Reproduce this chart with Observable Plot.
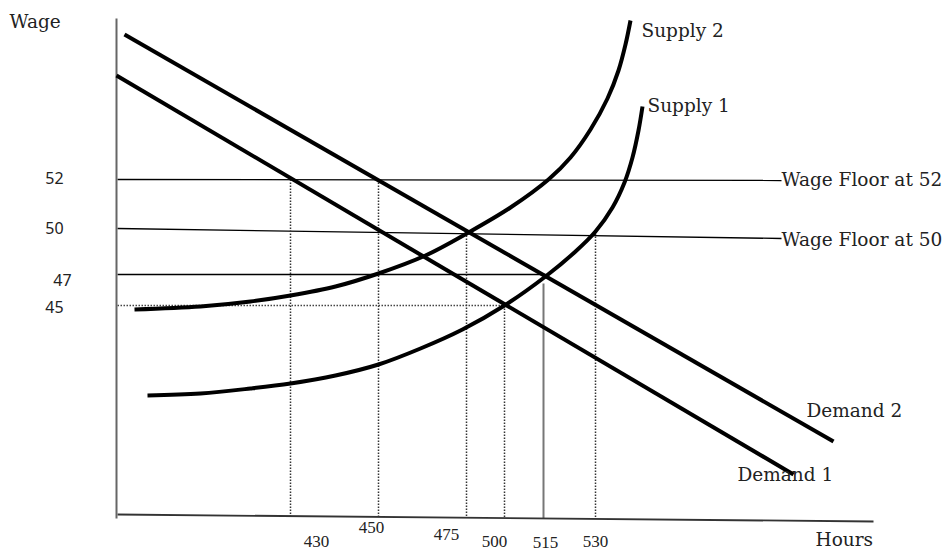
<!DOCTYPE html>
<html><head><meta charset="utf-8">
<script src="https://cdn.jsdelivr.net/npm/d3@7"></script>
<script src="https://cdn.jsdelivr.net/npm/@observablehq/plot@0.6"></script>
<style>html,body{margin:0;padding:0;background:#fff;overflow:hidden}</style>
</head><body><div id="chart"></div>
<script>
// ---- Data (diagram units; x = hours axis position, y = wage axis position from top) ----
const hourTicks   = ["430", "450", "475", "500", "515", "530"];
const hourTickPos = [290, 378, 466, 504, 543, 595];     // where each hours value sits on the sketch
const hourDropTop = [179, 179, 229, 305, 283, 233];     // level where each drop line starts
const wageTicks   = ["52", "50", "47", "45"];
const wageTickPos = [179, 228, 274, 305];

const demand1 = [[116, 75], [793, 474]];
const demand2 = [[124, 34], [833, 441]];
const supply1 = [[147, 395], [200, 393], [250, 388], [290, 383], [335, 375], [378, 364], [420, 348], [462, 329], [504, 305], [545, 276], [575, 251], [595, 231], [612, 207], [624, 182], [632, 157], [638, 130], [642, 106]];
const supply2 = [[134, 309], [200, 306], [250, 301], [290, 295], [335, 286], [378, 273], [425, 255], [468, 232], [510, 207], [548, 179], [570, 157], [590, 129], [607, 98], [618, 70], [625, 44], [630, 20]];

const floor52 = [[117, 179], [781, 180]];
const floor50 = [[117, 228], [781, 238]];
const level47 = [[117, 274], [545, 274]];
const level45 = [[117, 305], [504, 305]];

const xAxisLine = [[117, 514], [873, 521]];
const yAxisLine = [[116, 18], [116, 518]];

const curveLabels = ["Supply 2", "Supply 1", "Wage Floor at 52", "Wage Floor at 50", "Demand 2", "Demand 1", "Wage", "Hours"];

// ---- Layout (label placement) ----
const curveLabelPos = [[641, 31], [647, 106], [781, 180], [781, 240], [806, 411], [737, 475], [9, 22], [815, 540]];
const hourLabelPos  = [[316, 541], [371, 527], [446, 534], [494, 541], [545, 542], [595, 541]];
const wageLabelPos  = [[54, 178], [54, 228], [62, 280], [54, 307]];

const axisY = x => xAxisLine[0][1] + (x - xAxisLine[0][0]) * (xAxisLine[1][1] - xAxisLine[0][1]) / (xAxisLine[1][0] - xAxisLine[0][0]);
const drops = hourTicks.map((t, i) => ({t, x: hourTickPos[i], y1: hourDropTop[i], y2: axisY(hourTickPos[i]), solid: t === "515"}));
const seg = pts => ({x1: pts[0][0], y1: pts[0][1], x2: pts[1][0], y2: pts[1][1]});

const serif = "DejaVu Serif";
const chart = Plot.plot({
  width: 950, height: 552, margin: 0,
  x: {type: "linear", domain: [0, 950], range: [0, 950], axis: null},
  y: {type: "linear", domain: [0, 552], range: [0, 552], axis: null},
  style: {background: "#fff"},
  marks: [
    // horizontal wage levels
    Plot.link([seg(floor52), seg(floor50), seg(level47)], {x1: "x1", y1: "y1", x2: "x2", y2: "y2", stroke: "#000", strokeWidth: 1.3}),
    Plot.link([seg(level45)], {x1: "x1", y1: "y1", x2: "x2", y2: "y2", stroke: "#444", strokeWidth: 1.5, strokeDasharray: "1.5,1.5"}),
    // vertical drops to the hours axis
    Plot.link(drops.filter(d => !d.solid), {x1: "x", y1: "y1", x2: "x", y2: "y2", stroke: "#333", strokeWidth: 1.5, strokeDasharray: "1.5,1.5"}),
    Plot.link(drops.filter(d => d.solid), {x1: "x", y1: "y1", x2: "x", y2: "y2", stroke: "#777", strokeWidth: 2}),
    // axes
    Plot.link([seg(xAxisLine)], {x1: "x1", y1: "y1", x2: "x2", y2: "y2", stroke: "#333", strokeWidth: 1.8}),
    Plot.link([seg(yAxisLine)], {x1: "x1", y1: "y1", x2: "x2", y2: "y2", stroke: "#666", strokeWidth: 2}),
    // curves
    Plot.line(demand1, {x: d => d[0], y: d => d[1], stroke: "#000", strokeWidth: 4, strokeLinecap: "butt"}),
    Plot.line(demand2, {x: d => d[0], y: d => d[1], stroke: "#000", strokeWidth: 4, strokeLinecap: "butt"}),
    Plot.line(supply1, {x: d => d[0], y: d => d[1], curve: "catmull-rom", stroke: "#000", strokeWidth: 4, strokeLinecap: "butt"}),
    Plot.line(supply2, {x: d => d[0], y: d => d[1], curve: "catmull-rom", stroke: "#000", strokeWidth: 4, strokeLinecap: "butt"}),
    // labels
    Plot.text(curveLabels, {x: (d, i) => curveLabelPos[i][0], y: (d, i) => curveLabelPos[i][1], text: d => d, textAnchor: "start", lineAnchor: "middle", fontFamily: serif, fontSize: 18.5, fill: "#222"}),
    Plot.text(hourTicks, {x: (d, i) => hourLabelPos[i][0], y: (d, i) => hourLabelPos[i][1], text: d => d, textAnchor: "middle", lineAnchor: "middle", fontFamily: "Liberation Serif", fontSize: 17, fill: "#222"}),
    Plot.text(wageTicks, {x: (d, i) => wageLabelPos[i][0], y: (d, i) => wageLabelPos[i][1], text: d => d, textAnchor: "middle", lineAnchor: "middle", fontFamily: d => d === "47" ? "Liberation Sans" : "Liberation Serif", fontSize: 16, fill: "#222"})
  ]
});
document.getElementById("chart").appendChild(chart);
</script></body></html>
